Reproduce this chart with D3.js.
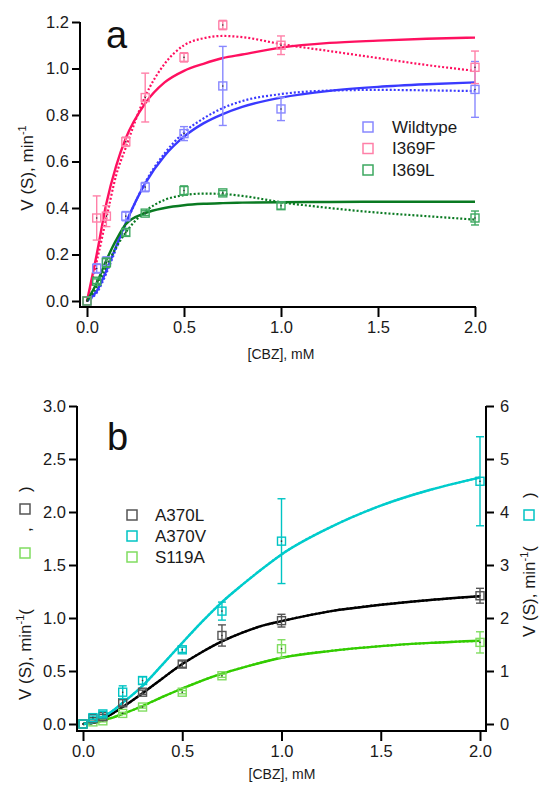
<!DOCTYPE html>
<html><head><meta charset="utf-8">
<script src="https://cdn.jsdelivr.net/npm/d3@7"></script>
<style>body{margin:0;background:#fff}svg{display:block;font-family:"Liberation Sans",Arial,sans-serif}</style>
</head><body><svg id="c" width="539" height="785"></svg>
<script>
// ---------- Panel a data ----------
const concA = [0, 0.05, 0.1, 0.2, 0.3, 0.5, 0.7, 1.0, 2.0];
const wtV   = [0, 0.14, 0.17, 0.365, 0.49, 0.72, 0.925, 0.826, 0.91];
const wtErr = [0, 0.02, 0.02, 0.02, 0.02, 0.03, 0.17, 0.05, 0.12];
const fV    = [0, 0.357, 0.365, 0.685, 0.875, 1.048, 1.187, 1.10, 1.005];
const fErr  = [0, 0.095, 0.045, 0.02, 0.105, 0.02, 0.02, 0.04, 0.07];
const lV    = [0, 0.085, 0.165, 0.295, 0.378, 0.475, 0.465, 0.41, 0.357];
const lErr  = [0, 0.01, 0.02, 0.015, 0.01, 0.02, 0.01, 0.015, 0.03];
const fitXA = [0, 0.05, 0.1, 0.15, 0.2, 0.3, 0.4, 0.5, 0.6, 0.7, 0.8, 1.0, 1.25, 1.5, 1.75, 2.0];
const wtHill  = [0, 0.042, 0.131, 0.235, 0.336, 0.506, 0.625, 0.707, 0.764, 0.804, 0.835, 0.875, 0.904, 0.921, 0.932, 0.94];
const wtInhib = [0, 0.035, 0.12, 0.225, 0.33, 0.51, 0.635, 0.725, 0.785, 0.83, 0.86, 0.89, 0.905, 0.908, 0.906, 0.903];
const fHill   = [0, 0.2, 0.42, 0.58, 0.70, 0.85, 0.94, 0.99, 1.02, 1.045, 1.06, 1.09, 1.11, 1.12, 1.128, 1.133];
const fInhib  = [0, 0.17, 0.357, 0.54, 0.66, 0.88, 1.02, 1.10, 1.13, 1.14, 1.135, 1.105, 1.075, 1.045, 1.015, 0.99];
const lHill   = [0, 0.077, 0.176, 0.262, 0.33, 0.378, 0.40, 0.412, 0.418, 0.421, 0.423, 0.425, 0.426, 0.427, 0.427, 0.427];
const lInhib  = [0, 0.06, 0.15, 0.23, 0.295, 0.385, 0.435, 0.455, 0.462, 0.46, 0.452, 0.425, 0.40, 0.38, 0.365, 0.35];
const namesA = ["Wildtype", "I369F", "I369L"];
const yTicksA = [0, 0.2, 0.4, 0.6, 0.8, 1.0, 1.2];
const xTicks = [0, 0.5, 1.0, 1.5, 2.0];

// ---------- Panel b data ----------
const concB = [0, 0.05, 0.1, 0.2, 0.3, 0.5, 0.7, 1.0, 2.0];
const a370lV   = [0, 0.05, 0.07, 0.2, 0.3, 0.565, 0.835, 0.975, 1.21];
const a370lErr = [0, 0.01, 0.02, 0.03, 0.02, 0.03, 0.1, 0.06, 0.07];
const a370vV   = [0, 0.12, 0.19, 0.6, 0.82, 1.4, 2.13, 3.45, 4.58];   // right axis
const a370vErr = [0, 0.03, 0.05, 0.12, 0.07, 0.05, 0.17, 0.8, 0.84];
const s119aV   = [0, 0.02, 0.03, 0.1, 0.16, 0.3, 0.455, 0.71, 0.77];
const s119aErr = [0, 0.005, 0.01, 0.01, 0.01, 0.015, 0.015, 0.085, 0.1];
const fitXB = [0, 0.05, 0.1, 0.15, 0.2, 0.3, 0.4, 0.5, 0.6, 0.7, 0.8, 0.9, 1.0, 1.25, 1.5, 1.75, 2.0];
const a370lFit = [0, 0.012, 0.05, 0.1, 0.16, 0.29, 0.43, 0.565, 0.68, 0.78, 0.86, 0.925, 0.97, 1.065, 1.125, 1.17, 1.205];
const a370vFit = [0, 0.03, 0.13, 0.25, 0.40, 0.72, 1.12, 1.53, 1.93, 2.3, 2.62, 2.92, 3.2, 3.72, 4.12, 4.42, 4.65];
const s119aFit = [0, 0.01, 0.035, 0.06, 0.095, 0.17, 0.255, 0.335, 0.41, 0.475, 0.53, 0.58, 0.625, 0.69, 0.735, 0.765, 0.785];
const namesB = ["A370L", "A370V", "S119A"];
const yTicksBL = [0, 0.5, 1.0, 1.5, 2.0, 2.5, 3.0];
const yTicksBR = [0, 1, 2, 3, 4, 5, 6];

const svg = d3.select("#c");
const FS = 16.5;

function drawAxisLine(x1,y1,x2,y2){
  svg.append("line").attr("x1",x1).attr("y1",y1).attr("x2",x2).attr("y2",y2)
    .attr("stroke","#000").attr("stroke-width",2);
}
function styleAxis(g){
  g.select(".domain").remove();
  g.selectAll(".tick line").attr("stroke","#000").attr("stroke-width",2);
  g.selectAll(".tick text").attr("fill","#1a1a1a").style("font-size",FS+"px")
   .style("font-family",'"Liberation Sans",Arial,sans-serif');
}
function drawSeries(x, y, xs, vs, es, markColor, s){
  const g = svg.append("g");
  xs.forEach((xv,i)=>{
    const e = es[i];
    const cx = x(xv), cy = y(vs[i]);
    if (e > 0){
      const y1 = y(vs[i]+e), y2 = y(vs[i]-e);
      g.append("line").attr("x1",cx).attr("x2",cx).attr("y1",y1).attr("y2",y2)
        .attr("stroke",markColor).attr("stroke-width",1.4);
      [y1,y2].forEach(yy=>g.append("line").attr("x1",cx-4).attr("x2",cx+4).attr("y1",yy).attr("y2",yy)
        .attr("stroke",markColor).attr("stroke-width",1.4));
    }
    g.append("rect").attr("x",cx-s/2).attr("y",cy-s/2).attr("width",s).attr("height",s)
      .attr("fill","none").attr("stroke",markColor).attr("stroke-width",1.4);
    g.append("circle").attr("cx",cx).attr("cy",cy).attr("r",0.8).attr("fill","#333");
  });
}
function drawCurve(x, y, xs, vs, color, dotted){
  const line = d3.line().x((d,i)=>x(xs[i])).y(d=>y(d)).curve(d3.curveMonotoneX);
  svg.append("path").attr("d",line(vs)).attr("fill","none").attr("stroke",color)
    .attr("stroke-width",dotted?2.2:2.4).attr("stroke-dasharray",dotted?"2,2":null);
}

// ================= Panel a =================
const xA = d3.scaleLinear().domain([0,2]).range([87,475]);
const yA = d3.scaleLinear().domain([0,1.2]).range([301,22]);
drawAxisLine(80,22,80,308);
drawAxisLine(79,307,476,307);
const gyA = svg.append("g").attr("transform","translate(80,0)")
  .call(d3.axisLeft(yA).tickValues(yTicksA).tickFormat(d3.format(".1f")).tickSize(8).tickPadding(3));
styleAxis(gyA);
const gxA = svg.append("g").attr("transform","translate(0,307)")
  .call(d3.axisBottom(xA).tickValues(xTicks).tickFormat(d3.format(".1f")).tickSize(10).tickPadding(4));
styleAxis(gxA);

const colA = [{c:"#3a3aff", m:"#8888ff"}, {c:"#ff1060", m:"#ff80a8"}, {c:"#0a7a22", m:"#3da860"}];
drawCurve(xA,yA,fitXA,wtHill,colA[0].c,false);
drawCurve(xA,yA,fitXA,wtInhib,colA[0].c,true);
drawCurve(xA,yA,fitXA,fHill,colA[1].c,false);
drawCurve(xA,yA,fitXA,fInhib,colA[1].c,true);
drawCurve(xA,yA,fitXA,lHill,colA[2].c,false);
drawCurve(xA,yA,fitXA,lInhib,colA[2].c,true);
drawSeries(xA,yA,concA,wtV,wtErr,colA[0].m,8);
drawSeries(xA,yA,concA,fV,fErr,colA[1].m,8);
drawSeries(xA,yA,concA,lV,lErr,colA[2].m,8);

svg.append("text").attr("x",106).attr("y",48).text("a").style("font-size","38px").attr("fill","#111");
namesA.forEach((n,i)=>{
  const yy = 127 + i*21.5;
  svg.append("rect").attr("x",363).attr("y",yy-5).attr("width",10).attr("height",10)
    .attr("fill","none").attr("stroke",colA[i].m).attr("stroke-width",1.5);
  svg.append("text").attr("x",392).attr("y",yy).attr("dy","0.35em").text(n)
    .style("font-size","17px").attr("fill","#1a1a1a");
});
svg.append("text").attr("x",281).attr("y",359).attr("text-anchor","middle")
  .style("font-size","14px").attr("fill","#1a1a1a").text("[CBZ], mM");
const ylabA = svg.append("text").attr("transform","translate(33,168) rotate(-90)")
  .attr("text-anchor","middle").style("font-size","17px").attr("fill","#1a1a1a");
ylabA.append("tspan").text("V (S),  min");
ylabA.append("tspan").attr("dy",-7).style("font-size","11px").text("-1");

// ================= Panel b =================
const xB = d3.scaleLinear().domain([0,2]).range([83,480]);
const yBL = d3.scaleLinear().domain([0,3]).range([724,406]);
const yBR = d3.scaleLinear().domain([0,6]).range([724,406]);
drawAxisLine(77,406,77,732);
drawAxisLine(76,731,487,731);
drawAxisLine(486,406,486,732);
const gyBL = svg.append("g").attr("transform","translate(77,0)")
  .call(d3.axisLeft(yBL).tickValues(yTicksBL).tickFormat(d3.format(".1f")).tickSize(8).tickPadding(3));
styleAxis(gyBL);
const gyBR = svg.append("g").attr("transform","translate(486,0)")
  .call(d3.axisRight(yBR).tickValues(yTicksBR).tickFormat(d3.format("d")).tickSize(8).tickPadding(6));
styleAxis(gyBR);
const gxB = svg.append("g").attr("transform","translate(0,731)")
  .call(d3.axisBottom(xB).tickValues(xTicks).tickFormat(d3.format(".1f")).tickSize(10).tickPadding(4));
styleAxis(gxB);

const colB = [{c:"#000000", m:"#555555"}, {c:"#00cccc", m:"#00c4c4"}, {c:"#33cc00", m:"#80dd60"}];
drawCurve(xB,yBL,fitXB,s119aFit,colB[2].c,false);
drawCurve(xB,yBL,fitXB,s119aFit,colB[2].c,true);
drawCurve(xB,yBL,fitXB,a370lFit,colB[0].c,false);
drawCurve(xB,yBL,fitXB,a370lFit,colB[0].c,true);
drawCurve(xB,yBR,fitXB,a370vFit,colB[1].c,false);
drawCurve(xB,yBR,fitXB,a370vFit,colB[1].c,true);
drawSeries(xB,yBL,concB,s119aV,s119aErr,colB[2].m,8);
drawSeries(xB,yBL,concB,a370lV,a370lErr,colB[0].m,8);
drawSeries(xB,yBR,concB,a370vV,a370vErr,colB[1].m,8);

svg.append("text").attr("x",107).attr("y",450).text("b").style("font-size","38px").attr("fill","#111");
namesB.forEach((n,i)=>{
  const yy = 515 + i*21;
  svg.append("rect").attr("x",127).attr("y",yy-5).attr("width",10).attr("height",10)
    .attr("fill","none").attr("stroke",colB[i].m).attr("stroke-width",1.5);
  svg.append("text").attr("x",155).attr("y",yy).attr("dy","0.35em").text(n)
    .style("font-size","17px").attr("fill","#1a1a1a");
});
svg.append("text").attr("x",282).attr("y",779).attr("text-anchor","middle")
  .style("font-size","14px").attr("fill","#1a1a1a").text("[CBZ], mM");

// left rotated label with embedded squares
const gl = svg.append("g").attr("transform","translate(31,700) rotate(-90)");
const tl = gl.append("text").style("font-size","17px").attr("fill","#1a1a1a");
tl.append("tspan").text("V (S),  min");
tl.append("tspan").attr("dy",-7).style("font-size","11px").text("-1");
tl.append("tspan").attr("dy",7).text("(");
gl.append("rect").attr("x",142).attr("y",-11).attr("width",10).attr("height",10)
  .attr("fill","none").attr("stroke",colB[2].m).attr("stroke-width",1.5);
gl.append("text").attr("x",168).attr("y",0).style("font-size","17px").attr("fill","#1a1a1a").text(",");
gl.append("rect").attr("x",186).attr("y",-11).attr("width",10).attr("height",10)
  .attr("fill","none").attr("stroke",colB[0].m).attr("stroke-width",1.5);
gl.append("text").attr("x",208).attr("y",0).style("font-size","17px").attr("fill","#1a1a1a").text(")");

// right rotated label
const gr = svg.append("g").attr("transform","translate(535,637) rotate(-90)");
const tr = gr.append("text").style("font-size","17px").attr("fill","#1a1a1a");
tr.append("tspan").text("V (S),  min");
tr.append("tspan").attr("dy",-7).style("font-size","11px").text("-1");
tr.append("tspan").attr("dy",7).text("(");
gr.append("rect").attr("x",117).attr("y",-11).attr("width",10).attr("height",10)
  .attr("fill","none").attr("stroke",colB[1].m).attr("stroke-width",1.5);
gr.append("text").attr("x",139).attr("y",0).style("font-size","17px").attr("fill","#1a1a1a").text(")");
</script></body></html>
